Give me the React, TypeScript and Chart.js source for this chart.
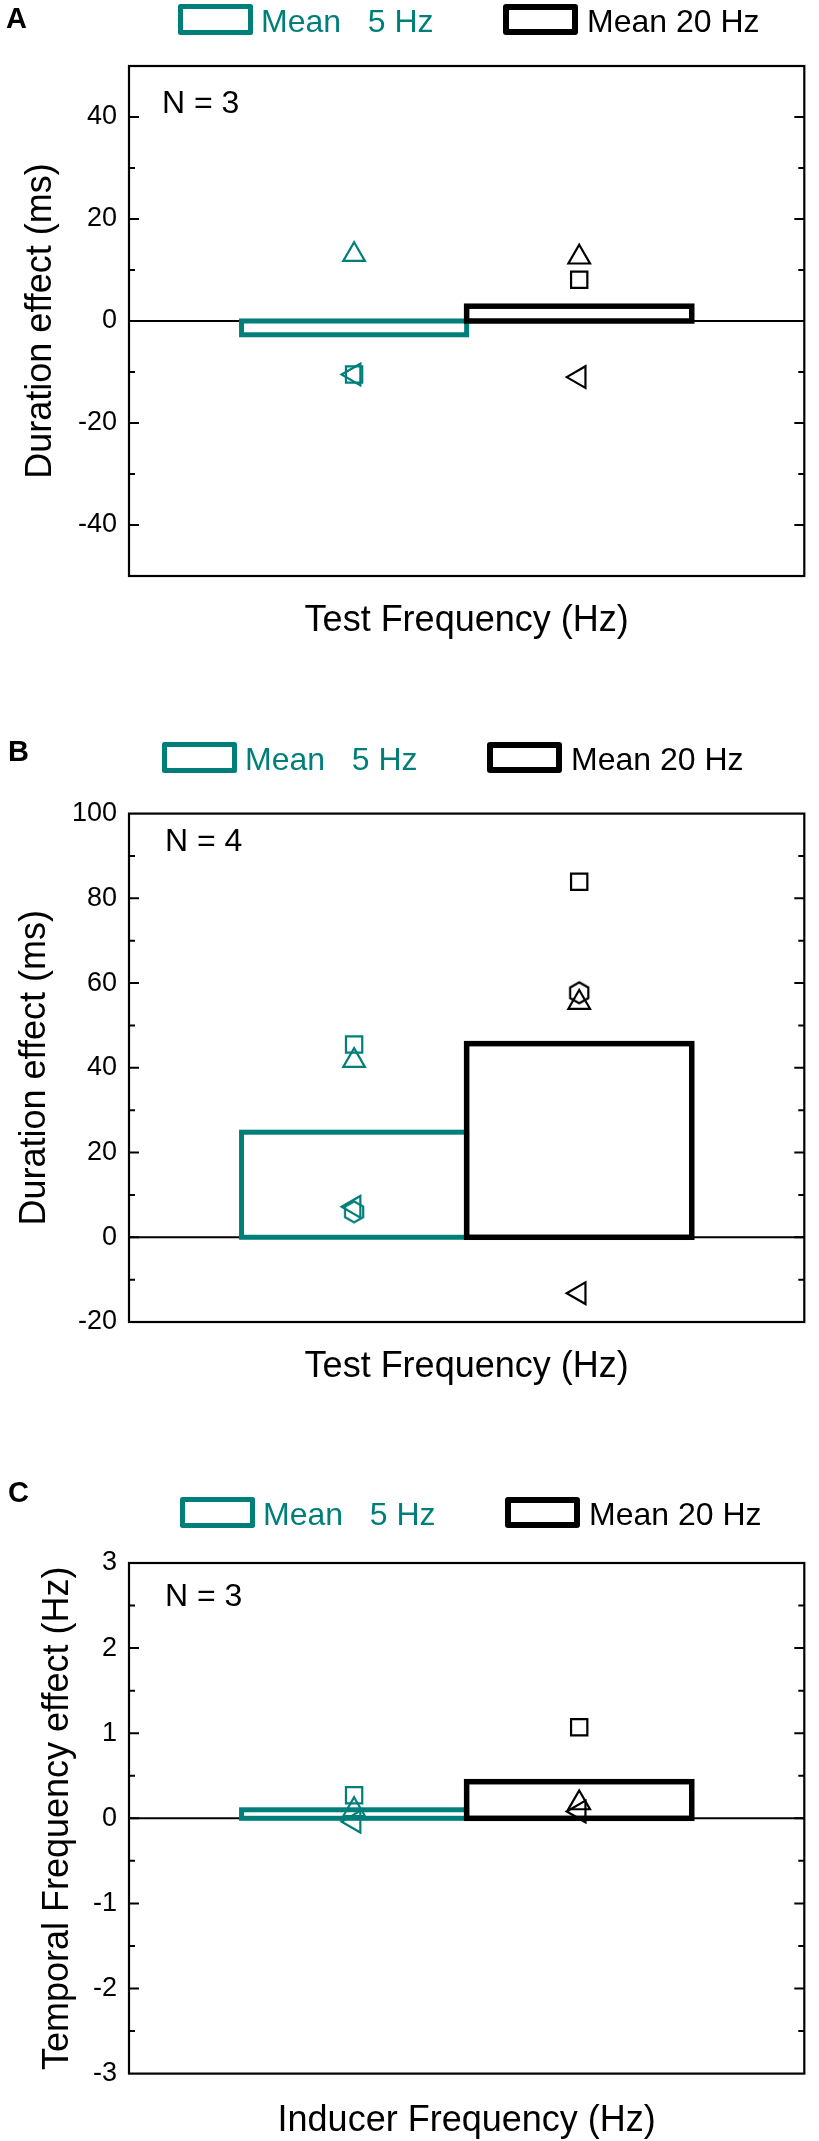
import React, { useEffect, useRef } from 'react';
import { Chart, registerables } from 'chart.js';

Chart.register(...registerables);

const FONT = '"Liberation Sans", Arial, Helvetica, sans-serif';
const TEAL = '#007f7a';
const BLACK = '#000000';

// ---------- shared categories ----------
const groupPositions = [1, 2]; // 5 Hz, 20 Hz
const legendLabels = ['Mean   5 Hz', 'Mean 20 Hz'];
const seriesColors = [TEAL, BLACK];

// ---------- Panel A ----------
const markersA = ['triangle', 'square', 'leftTriangle'];
const meansA = [-2.7, 2.9];
const values5HzA = [13.0, -10.5, -10.5];
const values20HzA = [12.5, 8.1, -11.0];
const yTicksA = [-40, -20, 0, 20, 40];

// ---------- Panel B ----------
const markersB = ['square', 'triangle', 'hexagon', 'leftTriangle'];
const meansB = [24.8, 45.7];
const values5HzB = [45.5, 41.7, 6.0, 7.2];
const values20HzB = [83.9, 55.4, 57.7, -13.2];
const yTicksB = [-20, 0, 20, 40, 60, 80, 100];

// ---------- Panel C ----------
const markersC = ['square', 'triangle', 'leftTriangle'];
const meansC = [0.1, 0.43];
const values5HzC = [0.27, 0.1, -0.04];
const values20HzC = [1.07, 0.18, 0.08];
const yTicksC = [-3, -2, -1, 0, 1, 2, 3];

const panels = [
  {
    letter: 'A', nText: 'N = 3', top: 0, height: 700,
    markers: markersA, means: meansA, v5: values5HzA, v20: values20HzA, ticks: yTicksA,
    yMin: -50, yMax: 50, minorStep: 10,
    xTitle: 'Test Frequency (Hz)', yTitle: 'Duration effect (ms)',
    padTop: 66, padRight: 3, xAxisHeight: 124, xTitlePad: 56.9, yTitlePad: 19.7,
    nX: 162, nY: 113, letterX: 6, letterY: 28, legendX: 178, legendY: 4,
  },
  {
    letter: 'B', nText: 'N = 4', top: 700, height: 720,
    markers: markersB, means: meansB, v5: values5HzB, v20: values20HzB, ticks: yTicksB,
    yMin: -20, yMax: 100, minorStep: 10,
    xTitle: 'Test Frequency (Hz)', yTitle: 'Duration effect (ms)',
    padTop: 113.6, padRight: 4, xAxisHeight: 98, xTitlePad: 31.1, yTitlePad: 13.7,
    nX: 165, nY: 151, letterX: 8, letterY: 61, legendX: 162, legendY: 42,
  },
  {
    letter: 'C', nText: 'N = 3', top: 1420, height: 721,
    markers: markersC, means: meansC, v5: values5HzC, v20: values20HzC, ticks: yTicksC,
    yMin: -3, yMax: 3, minorStep: 0.5,
    xTitle: 'Inducer Frequency (Hz)', yTitle: 'Temporal Frequency effect (Hz)',
    padTop: 143, padRight: 2, xAxisHeight: 67.4, xTitlePad: -1.9, yTitlePad: 36.7,
    nX: 165, nY: 186, letterX: 8, letterY: 82, legendX: 180, legendY: 77,
  },
];

const hexCache: Record<string, HTMLCanvasElement> = {};
function hexagonImage(color: string) {
  if (hexCache[color]) return hexCache[color];
  const c = document.createElement('canvas');
  const s = 26;
  c.width = s;
  c.height = s;
  const g = c.getContext('2d')!;
  g.strokeStyle = color;
  g.lineWidth = 2.2;
  g.beginPath();
  for (let i = 0; i < 6; i++) {
    const a = -Math.PI / 2 + (i * Math.PI) / 3;
    const px = s / 2 + 10.5 * Math.cos(a);
    const py = s / 2 + 10.5 * Math.sin(a);
    if (i === 0) g.moveTo(px, py);
    else g.lineTo(px, py);
  }
  g.closePath();
  g.stroke();
  hexCache[color] = c;
  return c;
}

function markerOptions(kind: string, color: string) {
  switch (kind) {
    case 'triangle':
      return { style: 'triangle' as any, radius: 12.5, rotation: 0 };
    case 'leftTriangle':
      return { style: 'triangle' as any, radius: 12.5, rotation: -90 };
    case 'square':
      return { style: 'rect' as any, radius: 11.5, rotation: 0 };
    case 'hexagon':
    default:
      return { style: hexagonImage(color) as any, radius: 10.5, rotation: 0 };
  }
}

function markerDataset(values: number[], kinds: string[], xPos: number, color: string, label: string) {
  const opts = kinds.map((k) => markerOptions(k, color));
  return {
    type: 'scatter',
    label,
    data: values.map((v) => ({ x: xPos, y: v })),
    pointStyle: opts.map((o) => o.style),
    pointRadius: opts.map((o) => o.radius),
    pointRotation: opts.map((o) => o.rotation),
    pointBorderColor: color,
    pointBackgroundColor: 'rgba(0,0,0,0)',
    pointBorderWidth: 2.2,
    showLine: false,
    clip: false,
    order: 1,
  };
}

const panelDecor = {
  id: 'panelDecor',
  beforeDatasetsDraw(chart: any) {
    const { ctx, chartArea: a } = chart;
    const y = chart.scales.y;
    const y0 = y.getPixelForValue(0);
    ctx.save();
    ctx.strokeStyle = '#000';
    ctx.lineWidth = 2;
    ctx.beginPath();
    ctx.moveTo(a.left, y0);
    ctx.lineTo(a.right, y0);
    ctx.stroke();
    ctx.restore();
  },
  afterDatasetDraw(chart: any, args: any) {
    const ds = chart.data.datasets[args.index];
    if (ds.type !== 'bar') return;
    const { ctx } = chart;
    ctx.save();
    ctx.lineJoin = 'miter';
    args.meta.data.forEach((el: any, i: number) => {
      const { x, y, base, width } = el.getProps(['x', 'y', 'base', 'width'], true);
      ctx.strokeStyle = ds.outlineColors[i];
      ctx.lineWidth = ds.outlineWidths[i];
      ctx.strokeRect(x - width / 2, Math.min(y, base), width, Math.abs(base - y));
    });
    ctx.restore();
  },
  afterDraw(chart: any, _args: any, o: any) {
    const { ctx, chartArea: a } = chart;
    const y = chart.scales.y;
    ctx.save();
    // frame
    ctx.strokeStyle = '#000';
    ctx.lineWidth = 2.2;
    ctx.lineCap = 'butt';
    ctx.strokeRect(a.left, a.top, a.right - a.left, a.bottom - a.top);
    // inward ticks on left and right
    ctx.lineWidth = 2;
    const majors = y.ticks.map((t: any) => t.value);
    const tick = (v: number, len: number) => {
      const py = y.getPixelForValue(v);
      ctx.beginPath();
      ctx.moveTo(a.left, py);
      ctx.lineTo(a.left + len, py);
      ctx.moveTo(a.right, py);
      ctx.lineTo(a.right - len, py);
      ctx.stroke();
    };
    majors.forEach((v: number) => {
      if (v > y.min && v < y.max) tick(v, 10);
    });
    const n = Math.round((y.max - y.min) / o.minorStep);
    for (let i = 1; i < n; i++) {
      const v = y.min + i * o.minorStep;
      if (!majors.some((m: number) => Math.abs(m - v) < 1e-9)) tick(v, 6);
    }
    // panel letter
    ctx.fillStyle = '#000';
    ctx.textBaseline = 'alphabetic';
    ctx.textAlign = 'left';
    ctx.font = `bold 29px ${FONT}`;
    ctx.fillText(o.letter, o.letterX, o.letterY);
    // N label
    ctx.font = `32px ${FONT}`;
    ctx.fillText(o.nText, o.nX, o.nY);
    // legend
    const boxOffsets = [0, 325];
    const textOffsets = [83, 409];
    const boxWidths = [5, 6];
    legendLabels.forEach((label, i) => {
      const bx = o.legendX + boxOffsets[i];
      const lw = boxWidths[i];
      ctx.strokeStyle = seriesColors[i];
      ctx.lineWidth = lw;
      ctx.lineJoin = 'round';
      ctx.strokeRect(bx + lw / 2, o.legendY + lw / 2, 75 - lw, 31 - lw);
      ctx.fillStyle = seriesColors[i];
      ctx.font = `32px ${FONT}`;
      ctx.fillText(label, o.legendX + textOffsets[i], o.legendY + 27.5);
    });
    ctx.restore();
  },
};

function buildConfig(p: any) {
  return {
    type: 'bar',
    data: {
      datasets: [
        {
          type: 'bar',
          label: 'Mean',
          data: groupPositions.map((x, i) => ({ x, y: p.means[i] })),
          backgroundColor: 'rgba(0,0,0,0)',
          borderWidth: 0,
          outlineColors: seriesColors,
          outlineWidths: [5, 5.5],
          barPercentage: 1,
          categoryPercentage: 1,
          order: 3,
        },
        markerDataset(p.v5, p.markers, groupPositions[0], TEAL, '5 Hz'),
        markerDataset(p.v20, p.markers, groupPositions[1], BLACK, '20 Hz'),
      ],
    },
    options: {
      animation: false,
      responsive: false,
      maintainAspectRatio: false,
      events: [],
      layout: { padding: { top: p.padTop, right: p.padRight, left: 0, bottom: 0 } },
      plugins: {
        legend: { display: false },
        tooltip: { enabled: false },
        title: { display: false },
        panelDecor: {
          minorStep: p.minorStep, letter: p.letter, letterX: p.letterX, letterY: p.letterY,
          nText: p.nText, nX: p.nX, nY: p.nY, legendX: p.legendX, legendY: p.legendY,
        },
      },
      scales: {
        x: {
          type: 'linear',
          min: 0,
          max: 3,
          offset: false,
          ticks: { display: false, stepSize: 1 },
          grid: { display: false, drawTicks: false },
          border: { display: false },
          title: {
            display: true,
            text: p.xTitle,
            color: '#000',
            font: { family: FONT, size: 36 },
            padding: { top: 0, bottom: p.xTitlePad },
          },
          afterFit: (s: any) => {
            s.height = p.xAxisHeight;
          },
        },
        y: {
          type: 'linear',
          min: p.yMin,
          max: p.yMax,
          afterBuildTicks: (s: any) => {
            s.ticks = p.ticks.map((v: number) => ({ value: v }));
          },
          ticks: {
            autoSkip: false,
            padding: 12,
            color: '#000',
            font: { family: FONT, size: 27 },
            callback: (v: any) => String(v),
          },
          grid: { display: false, drawTicks: false },
          border: { display: false },
          title: {
            display: true,
            text: p.yTitle,
            color: '#000',
            font: { family: FONT, size: 36 },
            padding: { top: p.yTitlePad, bottom: 0 },
          },
          afterFit: (s: any) => {
            s.width = 129;
          },
        },
      },
    },
    plugins: [panelDecor],
  };
}

function Panel({ spec }: { spec: any }) {
  const ref = useRef<HTMLCanvasElement>(null);
  useEffect(() => {
    const chart = new Chart(ref.current as HTMLCanvasElement, buildConfig(spec) as any);
    return () => chart.destroy();
  }, [spec]);
  return (
    <canvas
      ref={ref}
      width={819}
      height={spec.height}
      style={{ position: 'absolute', left: 0, top: spec.top, width: 819, height: spec.height, display: 'block' }}
    />
  );
}

export default function App() {
  return (
    <div
      style={{
        position: 'absolute',
        left: 0,
        top: 0,
        width: 819,
        height: 2141,
        background: '#ffffff',
        overflow: 'hidden',
      }}
    >
      {panels.map((p) => (
        <Panel key={p.letter} spec={p} />
      ))}
    </div>
  );
}
